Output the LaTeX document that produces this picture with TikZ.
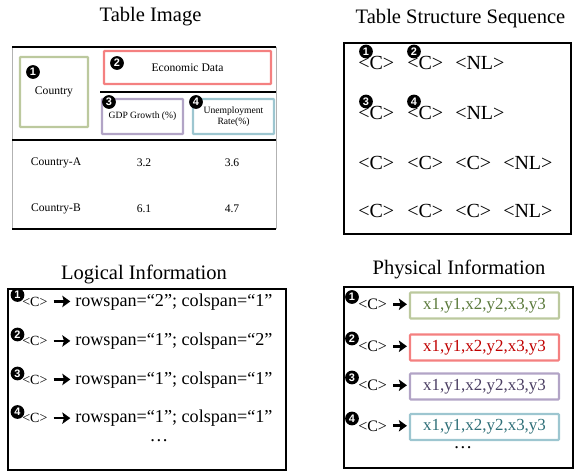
\documentclass[tikz,border=0pt]{standalone}
\usepackage{fontspec}
\setmainfont{Liberation Serif}
\newfontfamily\badgefont{Liberation Sans}
\usetikzlibrary{arrows.meta}
\definecolor{gbox}{HTML}{BCC99E}
\definecolor{rbox}{HTML}{F48080}
\definecolor{pbox}{HTML}{B2A4C6}
\definecolor{bbox}{HTML}{9DC6D0}
\definecolor{gtext}{HTML}{5B7A3C}
\definecolor{rtext}{HTML}{C00000}
\definecolor{ptext}{HTML}{4B3F63}
\definecolor{btext}{HTML}{2F6F78}
\begin{document}
\begin{tikzpicture}[x=0.75pt,y=-0.75pt,
  title/.style={font=\fontsize{15.4}{18}\selectfont, anchor=base, inner sep=0},
  badge/.style={circle, fill=black, text=white, inner sep=0, minimum size=10.3pt,
    font=\badgefont\bfseries\fontsize{8.2}{8.2}\selectfont},
  tline/.style={line width=1.5pt},
  gline/.style={line width=0.6pt, black!30},
  cbox/.style={draw=#1, line width=1.8pt, inner sep=0, rounded corners=0.6pt},
  tabtxt/.style={font=\fontsize{8.7}{10}\selectfont, inner sep=0},
  smtxt/.style={font=\fontsize{7.2}{8.6}\selectfont, inner sep=0, align=center},
  seqtok/.style={font=\fontsize{15}{18}\selectfont, anchor=base west, inner sep=0},
  panel/.style={draw, line width=1.5pt, inner sep=0},
  lc/.style={font=\fontsize{10.5}{12}\selectfont, anchor=base west, inner sep=0},
  ltext/.style={font=\fontsize{13.6}{16}\selectfont, anchor=base west, inner sep=0},
  pc/.style={font=\fontsize{12}{14}\selectfont, anchor=base west, inner sep=0},
  pbx/.style={draw=#1, line width=1.6pt, inner sep=0, minimum width=111.75pt,
    minimum height=19.5pt, font=\fontsize{12.7}{14}\selectfont, rounded corners=0.6pt},
  harrow/.style={line width=2pt, -{Stealth[length=6pt,width=8.5pt,inset=1.2pt]}},
  dots/.style={font=\fontsize{14}{16}\selectfont, inner sep=0}
]
\useasboundingbox (0,0) rectangle (578,471);

% ---------- Table Image ----------
\node[title] (ttl1) at (150.5,21.7) {Table Image};
\draw[gline] (12,46.5) -- (12,229);
\draw[gline] (276,46.5) -- (276,229);
\draw[tline] (12,46.5) -- (276,46.5);
\draw[tline] (100,91.5) -- (276,91.5);
\draw[tline] (12,139.5) -- (276,139.5);
\draw[tline] (12,229) -- (276,229);

\node[cbox=gbox, minimum width=51pt, minimum height=52.5pt, tabtxt] (cty) at (54,92) {Country};
\node[cbox=rbox, minimum width=125.25pt, minimum height=24.75pt, tabtxt] (eco) at (187.5,67.5) {Economic Data};
\node[cbox=pbox, minimum width=60.75pt, minimum height=26.25pt, smtxt] (gdp) at (142.5,116.5) {GDP Growth (\%)};
\node[cbox=bbox, minimum width=60.75pt, minimum height=26.25pt, smtxt] (une) at (233.5,116.5) {Unemployment\\Rate(\%)};

\node[tabtxt] (ca) at (56,163) {Country-A};
\node[tabtxt] (ca1) at (144,163) {3.2};
\node[tabtxt] (ca2) at (232,163) {3.6};
\node[tabtxt] (cb) at (56,209) {Country-B};
\node[tabtxt] (cb1) at (144,209) {6.1};
\node[tabtxt] (cb2) at (232,209) {4.7};

\node[badge] (tb1) at (33,72) {1};
\node[badge] (tb2) at (117,63) {2};
\node[badge] (tb3) at (109,102) {3};
\node[badge] (tb4) at (196,102) {4};

% ---------- Table Structure Sequence ----------
\node[title] (ttl2) at (460.5,23) {Table Structure Sequence};
\node[panel, minimum width=170.25pt, minimum height=143.25pt] (seqbox) at (457.5,138.5) {};
\node[seqtok] (s11) at (358,69.3) {<C>};
\node[seqtok] (s12) at (407,69.3) {<C>};
\node[seqtok] (s13) at (455,69.3) {<NL>};
\node[seqtok] (s21) at (358,119.3) {<C>};
\node[seqtok] (s22) at (407,119.3) {<C>};
\node[seqtok] (s23) at (455,119.3) {<NL>};
\node[seqtok] (s31) at (358,169.3) {<C>};
\node[seqtok] (s32) at (407,169.3) {<C>};
\node[seqtok] (s33) at (455,169.3) {<C>};
\node[seqtok] (s34) at (503,169.3) {<NL>};
\node[seqtok] (s41) at (358,217.5) {<C>};
\node[seqtok] (s42) at (407,217.5) {<C>};
\node[seqtok] (s43) at (455,217.5) {<C>};
\node[seqtok] (s44) at (503,217.5) {<NL>};
\node[badge] (sb1) at (366,51.5) {1};
\node[badge] (sb2) at (414,51.5) {2};
\node[badge] (sb3) at (366,101.5) {3};
\node[badge] (sb4) at (414,101.5) {4};

% ---------- Logical Information ----------
\node[title] (ttl3) at (144,279) {Logical Information};
\node[panel, minimum width=208.5pt, minimum height=135.4pt] (logbox) at (147,379.25) {};
\node[lc] (lc1) at (22,306) {<C>};
\node[ltext] (lt1) at (75,306) {rowspan=“2”; colspan=“1”};
\node[lc] (lc2) at (22,345.5) {<C>};
\node[ltext] (lt2) at (75,345.5) {rowspan=“1”; colspan=“2”};
\node[lc] (lc3) at (22,384) {<C>};
\node[ltext] (lt3) at (75,384) {rowspan=“1”; colspan=“1”};
\node[lc] (lc4) at (22,422.7) {<C>};
\node[ltext] (lt4) at (75,422.7) {rowspan=“1”; colspan=“1”};
\foreach \i in {1,2,3,4}{
  \draw[harrow, shorten <=4.5pt, shorten >=3.5pt] (lc\i.east) -- (lc\i.east -| lt\i.west);
}
\node[badge] (lb1) at (17.5,295) {1};
\node[badge] (lb2) at (17.5,334.5) {2};
\node[badge] (lb3) at (17.5,373.5) {3};
\node[badge] (lb4) at (17.5,412) {4};
\node[dots] (ldots) at (159,441) {…};

% ---------- Physical Information ----------
\node[title] (ttl4) at (459,274) {Physical Information};
\node[panel, minimum width=171.75pt, minimum height=135.75pt] (phbox) at (458.5,377.5) {};
\node[pbx=gbox, text=gtext] (pb1) at (484.5,305.5) {x1,y1,x2,y2,x3,y3};
\node[pbx=rbox, text=rtext] (pb2) at (484.5,347.5) {x1,y1,x2,y2,x3,y3};
\node[pbx=pbox, text=ptext] (pb3) at (484.5,386.5) {x1,y1,x2,y2,x3,y3};
\node[pbx=bbox, text=btext] (pb4) at (484.5,427) {x1,y1,x2,y2,x3,y3};
\node[pc] (pc1) at (358,309.5) {<C>};
\node[pc] (pc2) at (358,351.5) {<C>};
\node[pc] (pc3) at (358,390.5) {<C>};
\node[pc] (pc4) at (358,431) {<C>};
\foreach \i in {1,2,3,4}{
  \draw[harrow, shorten <=4.5pt, shorten >=1.5pt] (pc\i.east) -- (pc\i.east -| pb\i.west);
}
\node[badge] (pbd1) at (352,297) {1};
\node[badge] (pbd2) at (352,338.5) {2};
\node[badge] (pbd3) at (352,377.5) {3};
\node[badge] (pbd4) at (352,418.5) {4};
\node[dots] (pdots) at (463,448) {…};
\end{tikzpicture}
\end{document}
